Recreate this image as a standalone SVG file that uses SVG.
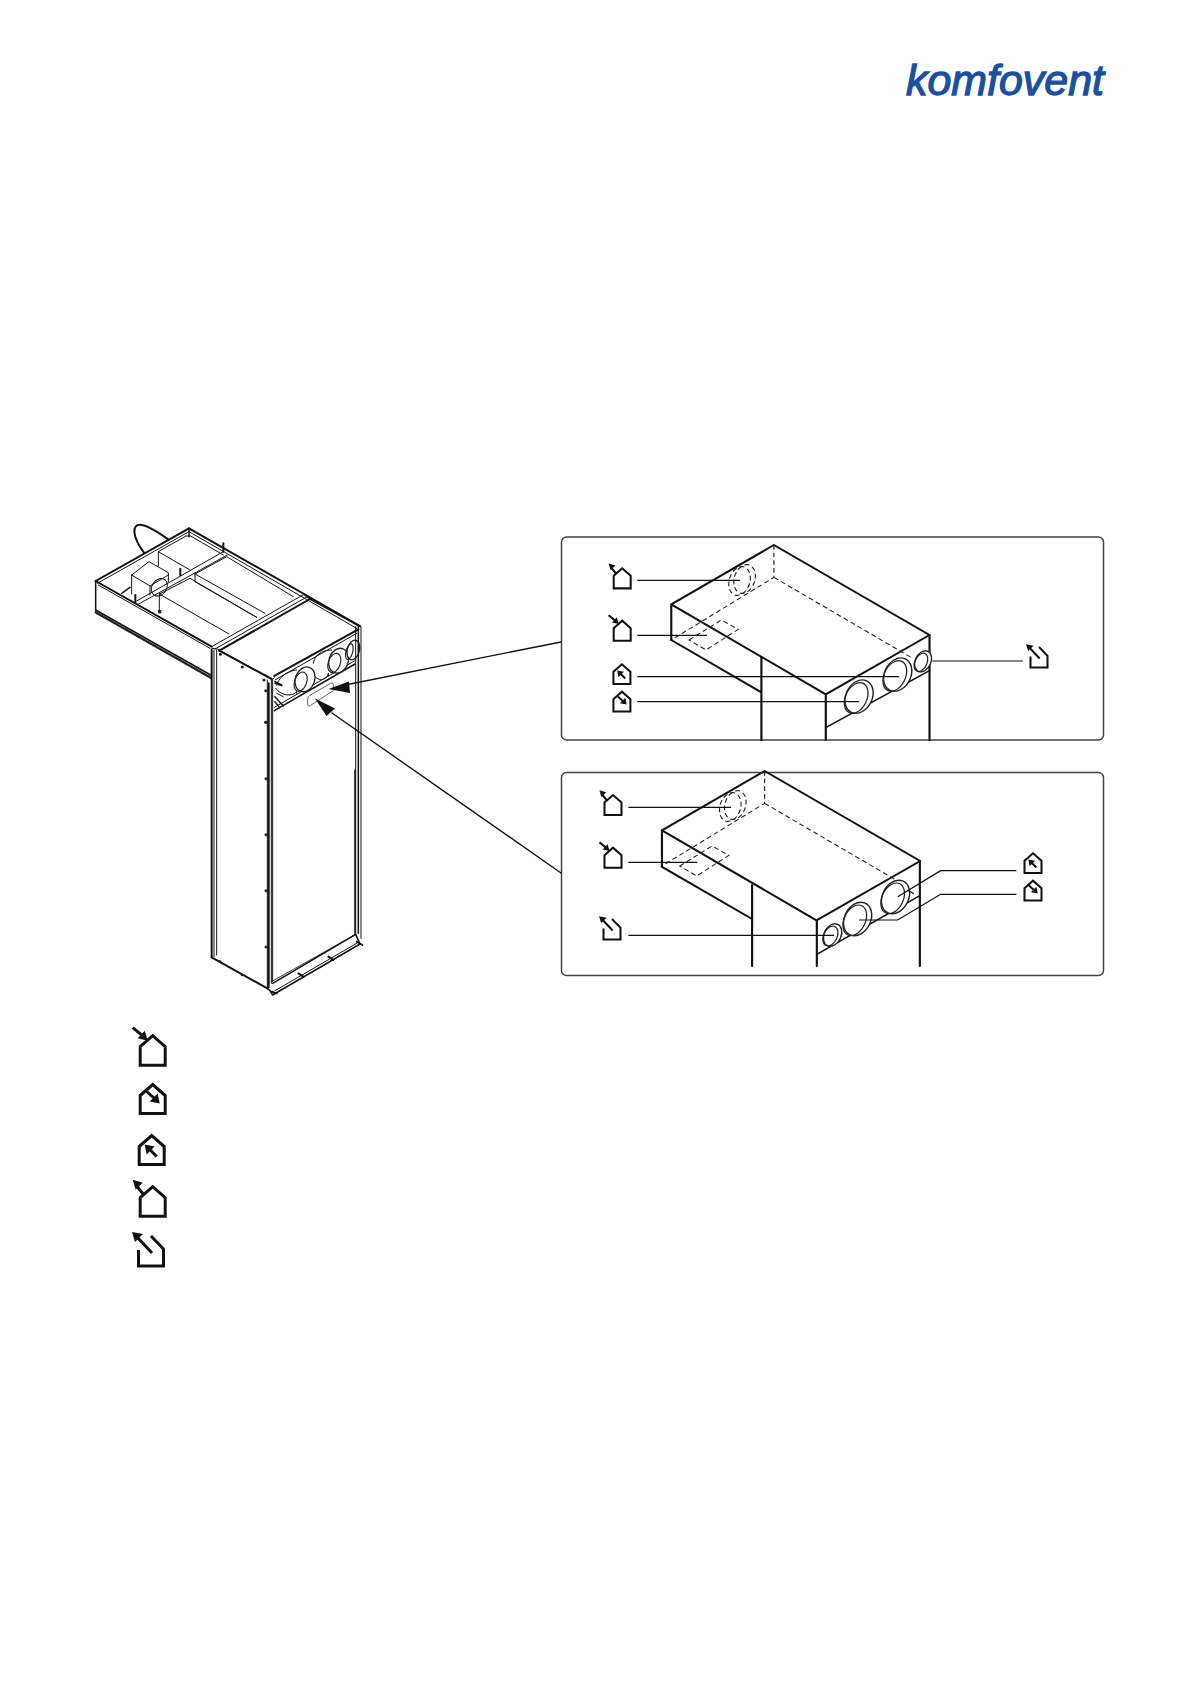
<svg xmlns="http://www.w3.org/2000/svg" xmlns:xlink="http://www.w3.org/1999/xlink" width="1192" height="1685" viewBox="0 0 1192 1685">
<style>
.ln{fill:none;stroke:#111;stroke-linecap:round;stroke-linejoin:round}
.t1{stroke-width:2.4}.t2{stroke-width:3}.t3{stroke-width:4.500}.t4{stroke-width:6}
.wh{fill:#fff;stroke:#222;stroke-width:4}
.in{fill:none;stroke:#222;stroke-width:3.500}
.dash{fill:none;stroke:#222;stroke-width:3.200;stroke-dasharray:14 9}
.lead{fill:none;stroke:#111;stroke-width:3.600}
.panel{fill:#fff;stroke:#444;stroke-width:1.500}
.hs{fill:none;stroke:#111;stroke-width:3;stroke-linejoin:miter}
.ar{fill:#111}
.dot{fill:#222}
</style>
<defs>
<g id="i-in"><path class="hs" d="M-12.500 11L0 0L12.500 11V29.500H-12.500Z"/><path class="hs" d="M-20 -8L-9 1"/><path class="ar" d="M-5 5L-15 2.500L-8 -5Z"/></g>
<g id="i-sup"><path class="hs" d="M-12.500 11L0 0L12.500 11V29H-12.500Z"/><path class="hs" d="M-6 7L3 15"/><path class="ar" d="M7 19L-3 17L5 9Z"/></g>
<g id="i-ext"><path class="hs" d="M-12.500 11L0 0L12.500 11V29H-12.500Z"/><path class="hs" d="M5 21L-4 12"/><path class="ar" d="M-7 9L3 11L-5 19Z"/></g>
<g id="i-out"><path class="hs" d="M-12.500 11L0 0L12.500 11V29.500H-12.500Z"/><path class="hs" d="M-9 8L-17 -2"/><path class="ar" d="M-20 -7L-10 -4L-17 3Z"/></g>
<g id="i-open"><path class="hs" d="M0 0L12.500 13V30H-12.500V14"/><path class="hs" d="M1 17L-14 1"/><path class="ar" d="M-19 -4L-8 -2L-16 6Z"/></g>
<g id="box-top">
<path class="ln t4" d="M612 60L1047 330L757 508L325 238ZM325 238V345"/>
<path class="dash" d="M612 60V157L325 345M612 157L1000 400M375 345L465 285L512 313L422 375Z"/>
<ellipse class="dash" cx="516" cy="168" rx="29" ry="44" transform="rotate(15 516 168)" stroke-dasharray="12 8"/>
<ellipse class="dash" cx="530" cy="162" rx="29" ry="44" transform="rotate(15 530 162)" stroke-dasharray="12 8"/>
</g>
</defs>
<rect width="1192" height="1685" fill="#fff"/>
<g id="logo"><text x="906" y="95" font-family="'Liberation Sans',Arial,sans-serif" font-style="italic" font-size="43" fill="#1c509e" stroke="#1c509e" stroke-width="1.300" textLength="198" lengthAdjust="spacingAndGlyphs">komfovent</text></g>

<g id="unit">
<g id="unit-top" transform="translate(80 500) scale(.33333)">
<path class="ln t4" d="M192 158C160 115 150 70 185 75C210 78 245 105 265 118"/>
<path d="M47 243L327 85L840 378V640H395V530L47 330Z" fill="#fff"/>
<path class="ln t4" d="M47 243L327 85L840 378"/>
<path class="ln t2" d="M52 250L327 95L830 385"/>
<path class="ln t3" d="M47 243V330M327 85V110"/>
<path class="ln t2" d="M318 108L235 155V198M318 108H332L430 165M235 155L330 210"/>
<path class="ln t2" d="M430 155L170 303M442 165L176 312"/>
<path class="ln t4" d="M430 130V155M301 206V226M166 285V305"/>
<path class="ln t2" d="M155 225L207 185L265 218V245M155 225L210 258V285M155 225V282M210 258L265 225"/>
<ellipse class="ln t2" cx="238" cy="262" rx="22" ry="28" transform="rotate(35 238 262)"/>
<path class="ln t3" d="M125 280L150 262" stroke-dasharray="3 2"/>
<path class="ln t4" d="M47 243L395 440"/>
<path class="ln t2" d="M55 255L390 445"/>
<path class="ln t3" d="M47 330L392 525"/>
<path class="ln" stroke-width="7" stroke-dasharray="3 2" style="stroke:#222" d="M47 337L392 533"/>
<path class="ln t2" d="M345 222L440 170L640 290M345 222L555 340M345 222V245L530 352"/>
<path class="ln t2" d="M238 282L330 235L530 352M238 282L447 402M238 282V335"/>
<path class="dot" d="M234 330h10v10h-10z"/>
<path class="ln t2" d="M672 283L395 440M682 290L405 447"/>
<path class="ln t4" d="M690 297L418 452"/>
<path class="ln t3" d="M672 283L690 297L840 380"/>
<path class="ln t2" d="M395 445L412 447L575 537"/>
<path class="ln t4" d="M418 452L575 537"/>
<path class="ln t4" d="M583 528L835 388"/>
<path class="ln t2" d="M585 540L830 400M583 533L575 540"/>
<path class="ln t2" d="M587 565C605 590 640 590 650 575M700 522C710 545 740 545 745 520M590 580L610 590M800 450L825 432"/>
<path class="ln t2" d="M590 555C600 520 640 510 650 510M700 490C705 455 740 450 755 450"/>
<path class="ln t2" d="M650 575V580M745 520V528"/>
<path class="ln t3" d="M583 632L825 492"/>
<path class="ln t2" d="M583 622L825 482"/>
<path class="ln t3" d="M585 590L610 618M585 605L600 625M585 550L605 557" stroke-dasharray="5 4"/>
<ellipse cx="675" cy="538" rx="29" ry="38" transform="rotate(20 675 538)" class="wh"/><ellipse cx="662" cy="545" rx="18" ry="30" transform="rotate(20 662 545)" class="in"/>
<ellipse cx="776" cy="482" rx="29" ry="38" transform="rotate(20 776 482)" class="wh"/><ellipse cx="763" cy="489" rx="18" ry="30" transform="rotate(20 763 489)" class="in"/>
<ellipse cx="820" cy="450" rx="18" ry="30" transform="rotate(15 820 450)" class="wh"/><ellipse cx="808" cy="455" rx="10" ry="24" transform="rotate(15 808 455)" class="in"/>
<path class="ln t3" d="M585 545L605 555"/>
<path d="M683 597Q683 590 690 586L752 550Q760 546 760 554V572L692 616Q683 622 683 612Z" fill="#fff" stroke="#444" stroke-width="2.500"/>
<circle class="dot" cx="421" cy="463" r="4.500"/><circle class="dot" cx="487" cy="501" r="4.500"/><circle class="dot" cx="552" cy="540" r="4.500"/><circle class="dot" cx="557" cy="572" r="4.500"/><circle class="dot" cx="557" cy="667" r="4.500"/>
</g>
<g id="unit-bottom" transform="translate(190 720) scale(.33333)">
<path class="ln t4" d="M65 -210V712M236 -110V802"/>
<path class="ln t2" d="M80 -210V705M72 -210V710M232 -120V805M248 -120V785M244 -120V790"/>
<path class="ln t2" d="M497 -280V643M513 -280V655"/>
<path class="ln t3" d="M505 -285V640M495 150V640"/>
<path class="ln t4" d="M65 712L232 805"/>
<path class="ln t3" d="M232 805L240 812L248 825L510 672L500 650L497 643L248 790"/>
<path class="ln t1" d="M248 783L497 643"/>
<path class="ln t2" d="M255 812L500 670"/>
<path class="ln t4" d="M325 760L340 770M415 710L430 720M500 665L517 675M245 815L260 820"/>
<circle class="dot" cx="228" cy="7" r="4.500"/><circle class="dot" cx="228" cy="176" r="4.500"/><circle class="dot" cx="228" cy="344" r="4.500"/><circle class="dot" cx="228" cy="512" r="4.500"/><circle class="dot" cx="228" cy="681" r="4.500"/><circle class="dot" cx="90" cy="725" r="4"/><circle class="dot" cx="156" cy="765" r="4"/>
</g>
</g>

<g id="panel-top">
<rect class="panel" x="561.500" y="537" width="542" height="203" rx="5"/>
<g transform="translate(555 525) scale(.3577 .33333)">
<use xlink:href="#box-top" href="#box-top"/>
<path class="ln t4" d="M325 345L577 502M577 395V645M757 508V645M1047 330V645"/>
<path class="ln t3" d="M757 608L1047 437"/>
<ellipse cx="850" cy="515" rx="37" ry="52" transform="rotate(22 850 515)" class="wh"/><ellipse cx="842" cy="519" rx="30" ry="48" transform="rotate(22 842 519)" class="in"/>
<ellipse cx="958" cy="449" rx="37" ry="52" transform="rotate(22 958 449)" class="wh"/><ellipse cx="950" cy="453" rx="30" ry="48" transform="rotate(22 950 453)" class="in"/>
<ellipse cx="1029" cy="409" rx="22" ry="33" transform="rotate(22 1029 409)" class="wh"/><ellipse cx="1023" cy="412" rx="17" ry="29" transform="rotate(22 1023 412)" class="in"/>
<path class="lead" d="M230 166H517M230 331H425M230 455H962M230 530H850M1055 408H1308"/>
</g>
<use xlink:href="#i-out" href="#i-out" transform="translate(622.200 568.300) scale(.68)"/>
<use xlink:href="#i-in" href="#i-in" transform="translate(622.200 620.700) scale(.68)"/>
<use xlink:href="#i-ext" href="#i-ext" transform="translate(621.900 664.300) scale(.68)"/>
<use xlink:href="#i-sup" href="#i-sup" transform="translate(621.900 691.700) scale(.68)"/>
<use xlink:href="#i-open" href="#i-open" transform="translate(1039 647) scale(.68)"/>
</g>

<g id="panel-bottom">
<rect class="panel" x="561.500" y="772.500" width="542" height="203" rx="5"/>
<g transform="translate(555 765) scale(.3577 .33333)">
<g transform="translate(-26 -42)"><use xlink:href="#box-top" href="#box-top"/></g>
<path class="ln t4" d="M298 305L551 462M551 360V603M732 467V603M1020 290V603"/>
<path class="ln t3" d="M732 568L1020 392"/>
<ellipse cx="776" cy="510" rx="24" ry="35" transform="rotate(22 776 510)" class="wh"/><ellipse cx="770" cy="513" rx="19" ry="31" transform="rotate(22 770 513)" class="in"/>
<ellipse cx="846" cy="462" rx="37" ry="52" transform="rotate(22 846 462)" class="wh"/><ellipse cx="838" cy="466" rx="30" ry="48" transform="rotate(22 838 466)" class="in"/>
<ellipse cx="952" cy="396" rx="37" ry="52" transform="rotate(22 952 396)" class="wh"/><ellipse cx="944" cy="400" rx="30" ry="48" transform="rotate(22 944 400)" class="in"/>
<path class="lead" d="M205 127H492M205 292H398M205 511H780M958 395L1078 317H1290M850 465H958L1078 388H1290M985 375L1003 386"/>
</g>
<use xlink:href="#i-out" href="#i-out" transform="translate(613 795) scale(.68)"/>
<use xlink:href="#i-in" href="#i-in" transform="translate(613 847.700) scale(.68)"/>
<use xlink:href="#i-open" href="#i-open" transform="translate(612 919) scale(.68)"/>
<use xlink:href="#i-ext" href="#i-ext" transform="translate(1033 853.300) scale(.68)"/>
<use xlink:href="#i-sup" href="#i-sup" transform="translate(1033 880.700) scale(.68)"/>
</g>

<g id="connectors">
<path class="ln" stroke-width="1.400" d="M561 642L345 685M561 873L332 713"/>
<path class="ar" d="M328.500 689L349 681.500L350 693Z"/>
<path class="ar" d="M315 698.500L335 708.500L326.500 716Z"/>
</g>

<g id="legend">
<use xlink:href="#i-in" href="#i-in" transform="translate(152.700 1035.700)"/>
<use xlink:href="#i-sup" href="#i-sup" transform="translate(152.700 1084.500)"/>
<use xlink:href="#i-ext" href="#i-ext" transform="translate(151.700 1135.500)"/>
<use xlink:href="#i-out" href="#i-out" transform="translate(152.700 1186.700)"/>
<use xlink:href="#i-open" href="#i-open" transform="translate(151 1236)"/>
</g>
</svg>
